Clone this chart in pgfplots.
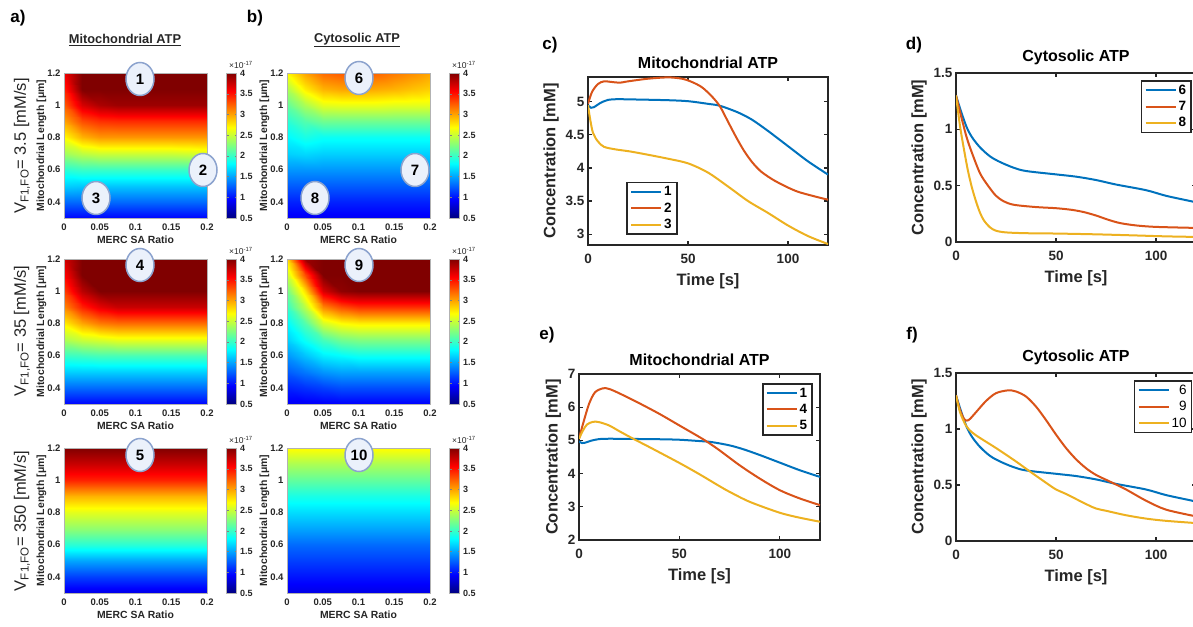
\documentclass[border=0pt]{standalone}
\usepackage{fontspec}
\setmainfont{Liberation Sans}
\usepackage{pgfplots}
\usepackage{pgfplotstable}
\pgfplotsset{compat=1.18}
\usetikzlibrary{shapes.geometric}
\definecolor{mblue}{rgb}{0,0.447,0.741}
\definecolor{morange}{rgb}{0.850,0.325,0.098}
\definecolor{myellow}{rgb}{0.929,0.694,0.125}
\definecolor{axgray}{HTML}{262626}
\definecolor{ellfill}{HTML}{EBF1FB}
\definecolor{elldraw}{HTML}{8CA3CE}

% heatmap A: mitochondrial ATP, V=3.5
\pgfplotstableread[row sep=\\]{
x y c\\
0 0.3 0.95\\ 0.025 0.3 0.95\\ 0.05 0.3 0.95\\ 0.075 0.3 0.95\\ 0.1 0.3 0.95\\ 0.125 0.3 0.95\\ 0.15 0.3 0.95\\ 0.175 0.3 0.95\\ 0.2 0.3 0.95\\
0 0.4 1.3\\ 0.025 0.4 1.3\\ 0.05 0.4 1.3\\ 0.075 0.4 1.3\\ 0.1 0.4 1.3\\ 0.125 0.4 1.3\\ 0.15 0.4 1.3\\ 0.175 0.4 1.3\\ 0.2 0.4 1.3\\
0 0.5 1.65\\ 0.025 0.5 1.63\\ 0.05 0.5 1.62\\ 0.075 0.5 1.62\\ 0.1 0.5 1.62\\ 0.125 0.5 1.62\\ 0.15 0.5 1.62\\ 0.175 0.5 1.62\\ 0.2 0.5 1.62\\
0 0.6 1.95\\ 0.025 0.6 2.0\\ 0.05 0.6 2.0\\ 0.075 0.6 2.0\\ 0.1 0.6 2.0\\ 0.125 0.6 2.0\\ 0.15 0.6 2.0\\ 0.175 0.6 2.0\\ 0.2 0.6 2.0\\
0 0.7 2.35\\ 0.025 0.7 2.45\\ 0.05 0.7 2.5\\ 0.075 0.7 2.5\\ 0.1 0.7 2.5\\ 0.125 0.7 2.5\\ 0.15 0.7 2.5\\ 0.175 0.7 2.52\\ 0.2 0.7 2.55\\
0 0.8 2.7\\ 0.025 0.8 2.95\\ 0.05 0.8 3.05\\ 0.075 0.8 3.05\\ 0.1 0.8 3.05\\ 0.125 0.8 3.05\\ 0.15 0.8 3.05\\ 0.175 0.8 3.05\\ 0.2 0.8 3.05\\
0 0.9 3.0\\ 0.025 0.9 3.3\\ 0.05 0.9 3.4\\ 0.075 0.9 3.42\\ 0.1 0.9 3.42\\ 0.125 0.9 3.42\\ 0.15 0.9 3.42\\ 0.175 0.9 3.42\\ 0.2 0.9 3.42\\
0 1.0 3.25\\ 0.025 1.0 3.7\\ 0.05 1.0 3.85\\ 0.075 1.0 3.9\\ 0.1 1.0 3.9\\ 0.125 1.0 3.9\\ 0.15 1.0 3.9\\ 0.175 1.0 3.9\\ 0.2 1.0 3.9\\
0 1.1 3.45\\ 0.025 1.1 4.05\\ 0.05 1.1 4.25\\ 0.075 1.1 4.3\\ 0.1 1.1 4.3\\ 0.125 1.1 4.3\\ 0.15 1.1 4.3\\ 0.175 1.1 4.3\\ 0.2 1.1 4.3\\
0 1.2 3.6\\ 0.025 1.2 4.3\\ 0.05 1.2 4.45\\ 0.075 1.2 4.5\\ 0.1 1.2 4.5\\ 0.125 1.2 4.5\\ 0.15 1.2 4.5\\ 0.175 1.2 4.5\\ 0.2 1.2 4.5\\
}\tabA

% heatmap B: cytosolic ATP, V=3.5
\pgfplotstableread[row sep=\\]{
x y c\\
0 0.3 0.9\\ 0.025 0.3 0.9\\ 0.05 0.3 0.9\\ 0.075 0.3 0.9\\ 0.1 0.3 0.9\\ 0.125 0.3 0.9\\ 0.15 0.3 0.9\\ 0.175 0.3 0.9\\ 0.2 0.3 0.9\\
0 0.4 1.05\\ 0.025 0.4 1.05\\ 0.05 0.4 1.05\\ 0.075 0.4 1.05\\ 0.1 0.4 1.05\\ 0.125 0.4 1.05\\ 0.15 0.4 1.05\\ 0.175 0.4 1.05\\ 0.2 0.4 1.05\\
0 0.5 1.25\\ 0.025 0.5 1.25\\ 0.05 0.5 1.25\\ 0.075 0.5 1.25\\ 0.1 0.5 1.25\\ 0.125 0.5 1.25\\ 0.15 0.5 1.25\\ 0.175 0.5 1.25\\ 0.2 0.5 1.25\\
0 0.6 1.45\\ 0.025 0.6 1.45\\ 0.05 0.6 1.45\\ 0.075 0.6 1.45\\ 0.1 0.6 1.45\\ 0.125 0.6 1.45\\ 0.15 0.6 1.45\\ 0.175 0.6 1.45\\ 0.2 0.6 1.45\\
0 0.7 1.65\\ 0.025 0.7 1.68\\ 0.05 0.7 1.65\\ 0.075 0.7 1.65\\ 0.1 0.7 1.65\\ 0.125 0.7 1.65\\ 0.15 0.7 1.65\\ 0.175 0.7 1.65\\ 0.2 0.7 1.65\\
0 0.8 1.8\\ 0.025 0.8 1.9\\ 0.05 0.8 1.85\\ 0.075 0.8 1.85\\ 0.1 0.8 1.85\\ 0.125 0.8 1.85\\ 0.15 0.8 1.85\\ 0.175 0.8 1.85\\ 0.2 0.8 1.85\\
0 0.9 1.95\\ 0.025 0.9 2.1\\ 0.05 0.9 2.2\\ 0.075 0.9 2.2\\ 0.1 0.9 2.2\\ 0.125 0.9 2.2\\ 0.15 0.9 2.2\\ 0.175 0.9 2.2\\ 0.2 0.9 2.2\\
0 1.0 2.15\\ 0.025 1.0 2.4\\ 0.05 1.0 2.6\\ 0.075 1.0 2.62\\ 0.1 1.0 2.62\\ 0.125 1.0 2.62\\ 0.15 1.0 2.6\\ 0.175 1.0 2.6\\ 0.2 1.0 2.6\\
0 1.1 2.4\\ 0.025 1.1 2.75\\ 0.05 1.1 2.95\\ 0.075 1.1 3.0\\ 0.1 1.1 3.0\\ 0.125 1.1 2.98\\ 0.15 1.1 2.95\\ 0.175 1.1 2.9\\ 0.2 1.1 2.85\\
0 1.2 2.7\\ 0.025 1.2 3.0\\ 0.05 1.2 3.2\\ 0.075 1.2 3.25\\ 0.1 1.2 3.25\\ 0.125 1.2 3.22\\ 0.15 1.2 3.15\\ 0.175 1.2 3.08\\ 0.2 1.2 3.0\\
}\tabB

% heatmap C: mitochondrial ATP, V=35
\pgfplotstableread[row sep=\\]{
x y c\\
0 0.3 0.95\\ 0.025 0.3 0.95\\ 0.05 0.3 0.95\\ 0.075 0.3 0.95\\ 0.1 0.3 0.95\\ 0.125 0.3 0.95\\ 0.15 0.3 0.95\\ 0.175 0.3 0.95\\ 0.2 0.3 0.95\\
0 0.4 1.3\\ 0.025 0.4 1.3\\ 0.05 0.4 1.3\\ 0.075 0.4 1.3\\ 0.1 0.4 1.3\\ 0.125 0.4 1.3\\ 0.15 0.4 1.3\\ 0.175 0.4 1.3\\ 0.2 0.4 1.3\\
0 0.5 1.65\\ 0.025 0.5 1.65\\ 0.05 0.5 1.65\\ 0.075 0.5 1.65\\ 0.1 0.5 1.65\\ 0.125 0.5 1.65\\ 0.15 0.5 1.65\\ 0.175 0.5 1.65\\ 0.2 0.5 1.65\\
0 0.6 2.0\\ 0.025 0.6 2.02\\ 0.05 0.6 2.05\\ 0.075 0.6 2.05\\ 0.1 0.6 2.05\\ 0.125 0.6 2.05\\ 0.15 0.6 2.05\\ 0.175 0.6 2.05\\ 0.2 0.6 2.05\\
0 0.7 2.4\\ 0.025 0.7 2.5\\ 0.05 0.7 2.55\\ 0.075 0.7 2.6\\ 0.1 0.7 2.6\\ 0.125 0.7 2.6\\ 0.15 0.7 2.6\\ 0.175 0.7 2.6\\ 0.2 0.7 2.6\\
0 0.8 2.75\\ 0.025 0.8 3.0\\ 0.05 0.8 3.15\\ 0.075 0.8 3.2\\ 0.1 0.8 3.2\\ 0.125 0.8 3.2\\ 0.15 0.8 3.2\\ 0.175 0.8 3.2\\ 0.2 0.8 3.2\\
0 0.9 3.1\\ 0.025 0.9 3.45\\ 0.05 0.9 3.65\\ 0.075 0.9 3.75\\ 0.1 0.9 3.75\\ 0.125 0.9 3.75\\ 0.15 0.9 3.75\\ 0.175 0.9 3.75\\ 0.2 0.9 3.75\\
0 1.0 3.35\\ 0.025 1.0 3.8\\ 0.05 1.0 4.05\\ 0.075 1.0 4.2\\ 0.1 1.0 4.2\\ 0.125 1.0 4.2\\ 0.15 1.0 4.2\\ 0.175 1.0 4.2\\ 0.2 1.0 4.2\\
0 1.1 3.55\\ 0.025 1.1 4.1\\ 0.05 1.1 4.35\\ 0.075 1.1 4.5\\ 0.1 1.1 4.5\\ 0.125 1.1 4.5\\ 0.15 1.1 4.5\\ 0.175 1.1 4.5\\ 0.2 1.1 4.5\\
0 1.2 3.7\\ 0.025 1.2 4.3\\ 0.05 1.2 4.55\\ 0.075 1.2 4.7\\ 0.1 1.2 4.7\\ 0.125 1.2 4.7\\ 0.15 1.2 4.7\\ 0.175 1.2 4.7\\ 0.2 1.2 4.7\\
}\tabC

% heatmap D: cytosolic ATP, V=35
\pgfplotstableread[row sep=\\]{
x y c\\
0 0.3 0.9\\ 0.025 0.3 0.9\\ 0.05 0.3 0.92\\ 0.075 0.3 0.93\\ 0.1 0.3 0.93\\ 0.125 0.3 0.93\\ 0.15 0.3 0.93\\ 0.175 0.3 0.93\\ 0.2 0.3 0.93\\
0 0.4 1.05\\ 0.025 0.4 1.1\\ 0.05 0.4 1.15\\ 0.075 0.4 1.2\\ 0.1 0.4 1.2\\ 0.125 0.4 1.2\\ 0.15 0.4 1.2\\ 0.175 0.4 1.2\\ 0.2 0.4 1.2\\
0 0.5 1.25\\ 0.025 0.5 1.35\\ 0.05 0.5 1.45\\ 0.075 0.5 1.5\\ 0.1 0.5 1.5\\ 0.125 0.5 1.5\\ 0.15 0.5 1.5\\ 0.175 0.5 1.5\\ 0.2 0.5 1.5\\
0 0.6 1.45\\ 0.025 0.6 1.6\\ 0.05 0.6 1.75\\ 0.075 0.6 1.8\\ 0.1 0.6 1.85\\ 0.125 0.6 1.85\\ 0.15 0.6 1.85\\ 0.175 0.6 1.85\\ 0.2 0.6 1.85\\
0 0.7 1.65\\ 0.025 0.7 1.85\\ 0.05 0.7 2.05\\ 0.075 0.7 2.2\\ 0.1 0.7 2.25\\ 0.125 0.7 2.25\\ 0.15 0.7 2.25\\ 0.175 0.7 2.25\\ 0.2 0.7 2.25\\
0 0.8 1.8\\ 0.025 0.8 2.1\\ 0.05 0.8 2.55\\ 0.075 0.8 2.7\\ 0.1 0.8 2.75\\ 0.125 0.8 2.75\\ 0.15 0.8 2.75\\ 0.175 0.8 2.75\\ 0.2 0.8 2.75\\
0 0.9 2.0\\ 0.025 0.9 2.45\\ 0.05 0.9 3.1\\ 0.075 0.9 3.3\\ 0.1 0.9 3.4\\ 0.125 0.9 3.4\\ 0.15 0.9 3.4\\ 0.175 0.9 3.4\\ 0.2 0.9 3.4\\
0 1.0 2.2\\ 0.025 1.0 2.8\\ 0.05 1.0 3.7\\ 0.075 1.0 3.95\\ 0.1 1.0 4.05\\ 0.125 1.0 4.05\\ 0.15 1.0 4.05\\ 0.175 1.0 4.05\\ 0.2 1.0 4.05\\
0 1.1 2.5\\ 0.025 1.1 3.3\\ 0.05 1.1 4.1\\ 0.075 1.1 4.3\\ 0.1 1.1 4.4\\ 0.125 1.1 4.4\\ 0.15 1.1 4.4\\ 0.175 1.1 4.4\\ 0.2 1.1 4.4\\
0 1.2 2.8\\ 0.025 1.2 3.9\\ 0.05 1.2 4.4\\ 0.075 1.2 4.5\\ 0.1 1.2 4.6\\ 0.125 1.2 4.6\\ 0.15 1.2 4.6\\ 0.175 1.2 4.6\\ 0.2 1.2 4.6\\
}\tabD

% heatmap E: mitochondrial ATP, V=350
\pgfplotstableread[row sep=\\]{
x y c\\
0 0.3 0.85\\ 0.2 0.3 0.85\\
0 0.4 1.15\\ 0.2 0.4 1.15\\
0 0.5 1.5\\ 0.2 0.5 1.5\\
0 0.6 1.95\\ 0.2 0.6 1.95\\
0 0.7 2.3\\ 0.2 0.7 2.3\\
0 0.8 2.6\\ 0.2 0.8 2.6\\
0 0.9 2.95\\ 0.2 0.9 2.95\\
0 1.0 3.45\\ 0.2 1.0 3.45\\
0 1.1 3.75\\ 0.2 1.1 3.75\\
0 1.2 4.0\\ 0.2 1.2 4.0\\
}\tabE

% heatmap F: cytosolic ATP, V=350
\pgfplotstableread[row sep=\\]{
x y c\\
0 0.3 0.85\\ 0.2 0.3 0.85\\
0 0.4 1.0\\ 0.2 0.4 1.0\\
0 0.5 1.15\\ 0.2 0.5 1.15\\
0 0.6 1.3\\ 0.2 0.6 1.3\\
0 0.7 1.5\\ 0.2 0.7 1.5\\
0 0.8 1.7\\ 0.2 0.8 1.7\\
0 0.9 1.9\\ 0.2 0.9 1.9\\
0 1.0 2.15\\ 0.2 1.0 2.15\\
0 1.1 2.4\\ 0.2 1.1 2.4\\
0 1.2 2.7\\ 0.2 1.2 2.7\\
}\tabF

\pgfplotsset{
  heat/.style={
    scale only axis, width=143pt, height=145pt,
    xmin=0, xmax=0.2, ymin=0.3, ymax=1.2,
    xtick={0,0.05,0.1,0.15,0.2}, xticklabels={0,0.05,0.1,0.15,0.2},
    ytick={0.4,0.6,0.8,1,1.2}, yticklabels={0.4,0.6,0.8,1,1.2},
    tick label style={font=\fontsize{9.5}{10}\selectfont\bfseries, text=axgray},
    xticklabel style={yshift=-2pt},
    label style={font=\fontsize{10.4}{12}\selectfont\bfseries, text=axgray},
    ylabel={Mitochondrial Length [μm]}, ylabel shift=-6pt,
    xlabel={MERC SA Ratio}, xlabel shift=-1pt,
    colormap/jet, point meta min=0.5, point meta max=4,
    axis on top, axis line style={draw=gray!60, line width=0.5pt},
    major tick length=0pt,
    colorbar,
    colorbar style={
      at={(parent axis.north east)}, anchor=north west, xshift=11pt,
      width=10pt, xlabel={}, ylabel={},
      ytick={0.5,1,1.5,2,2.5,3,3.5,4}, yticklabels={0.5,1,1.5,2,2.5,3,3.5,4},
      yticklabel style={font=\fontsize{9}{10}\selectfont\bfseries, text=axgray},
      major tick length=2pt,
      axis line style={draw=gray!60, line width=0.5pt},
    },
  },
  lineax/.style={
    scale only axis,
    xmin=0, xmax=120, xtick={0,50,100}, xticklabels={0,50,100},
    axis line style={draw=axgray, line width=1.6pt},
    tick style={draw=axgray, line width=1.1pt}, major tick length=4pt, tick align=inside,
    tick label style={font=\fontsize{13.5}{15}\selectfont\bfseries, text=axgray},
    xticklabel style={yshift=-6pt},
    label style={font=\fontsize{16.5}{18}\selectfont\bfseries, text=axgray},
    xlabel shift=3pt,
    title style={font=\fontsize{16}{18}\selectfont\bfseries, text=black, yshift=-1pt},
    xlabel={Time [s]}, ylabel={Concentration [mM]},
    legend style={draw=axgray, line width=1.6pt, fill=white,
      font=\fontsize{13.5}{15}\selectfont\bfseries, inner xsep=3pt, inner ysep=2pt,
      row sep=1.5pt},
    legend cell align=right,
    legend image code/.code={\draw[#1, line width=2pt] (0pt,0pt) -- (30pt,0pt);},
    every axis plot/.append style={line width=2pt, smooth, no markers},
  },
}

\tikzset{circ/.style={ellipse, draw=elldraw, fill=ellfill, line width=1.5pt,
  minimum width=28pt, minimum height=33pt, inner sep=0pt,
  font=\fontsize{15}{15}\selectfont\bfseries}}

\begin{document}
\begin{tikzpicture}
\useasboundingbox (0pt,0pt) rectangle (1193pt,626pt);
\clip (0pt,0pt) rectangle (1193pt,626pt);

% ---------------- heatmaps ----------------
\begin{axis}[heat, at={(64pt,408pt)}, anchor=south west]
\addplot[surf, shader=interp, mesh/cols=9, point meta=explicit] table[x=x,y=y,meta=c]{\tabA};
\end{axis}
\begin{axis}[heat, at={(287pt,408pt)}, anchor=south west]
\addplot[surf, shader=interp, mesh/cols=9, point meta=explicit] table[x=x,y=y,meta=c]{\tabB};
\end{axis}
\begin{axis}[heat, at={(64pt,222pt)}, anchor=south west]
\addplot[surf, shader=interp, mesh/cols=9, point meta=explicit] table[x=x,y=y,meta=c]{\tabC};
\end{axis}
\begin{axis}[heat, at={(287pt,222pt)}, anchor=south west]
\addplot[surf, shader=interp, mesh/cols=9, point meta=explicit] table[x=x,y=y,meta=c]{\tabD};
\end{axis}
\begin{axis}[heat, at={(64pt,33pt)}, anchor=south west]
\addplot[surf, shader=interp, mesh/cols=2, point meta=explicit] table[x=x,y=y,meta=c]{\tabE};
\end{axis}
\begin{axis}[heat, at={(287pt,33pt)}, anchor=south west]
\addplot[surf, shader=interp, mesh/cols=2, point meta=explicit] table[x=x,y=y,meta=c]{\tabF};
\end{axis}

% colorbar exponents
\foreach \yy in {557,371,182} {
  \node[anchor=south west, inner sep=0pt, font=\fontsize{8.5}{8.5}\selectfont, text=axgray] at (229pt,\yy pt) {×10\textsuperscript{-17}};
  \node[anchor=south west, inner sep=0pt, font=\fontsize{8.5}{8.5}\selectfont, text=axgray] at (452pt,\yy pt) {×10\textsuperscript{-17}};
}

% row labels
\node[rotate=90, font=\fontsize{16.5}{16.5}\selectfont, text=axgray] at (22pt,480pt) {V\textsubscript{F1,FO}= 3.5 [mM/s]};
\node[rotate=90, font=\fontsize{16.5}{16.5}\selectfont, text=axgray] at (22pt,295pt) {V\textsubscript{F1,FO}= 35 [mM/s]};
\node[rotate=90, font=\fontsize{16.5}{16.5}\selectfont, text=axgray] at (22pt,105pt) {V\textsubscript{F1,FO}= 350 [mM/s]};

% column titles and panel labels
\node[font=\fontsize{12.8}{14}\selectfont\bfseries, text=axgray] at (125pt,586pt) {\underline{Mitochondrial ATP}};
\node[font=\fontsize{12.8}{14}\selectfont\bfseries, text=axgray] at (357pt,586pt) {\underline{Cytosolic ATP}};
\node[font=\fontsize{17}{17}\selectfont\bfseries] at (18pt,608pt) {a)};
\node[font=\fontsize{17}{17}\selectfont\bfseries] at (255pt,608pt) {b)};
\node[font=\fontsize{17}{17}\selectfont\bfseries] at (550pt,581pt) {c)};
\node[font=\fontsize{17}{17}\selectfont\bfseries] at (914pt,581pt) {d)};
\node[font=\fontsize{17}{17}\selectfont\bfseries] at (547pt,291pt) {e)};
\node[font=\fontsize{17}{17}\selectfont\bfseries] at (912pt,291pt) {f)};

% numbered markers
\node[circ] at (140pt,547pt) {1};
\node[circ] at (203pt,456pt) {2};
\node[circ] at (96pt,428pt) {3};
\node[circ] at (359pt,548pt) {6};
\node[circ] at (415pt,456pt) {7};
\node[circ] at (315pt,428pt) {8};
\node[circ] at (140pt,361pt) {4};
\node[circ] at (359pt,361pt) {9};
\node[circ] at (140pt,171pt) {5};
\node[circ] at (359pt,171pt) {10};

% ---------------- line plots ----------------
\begin{axis}[lineax, at={(588pt,381pt)}, anchor=south west, width=240pt, height=168pt,
  ymin=2.835, ymax=5.376, ytick={3,3.5,4,4.5,5}, yticklabels={3,3.5,4,4.5,5},
  title={Mitochondrial ATP},
  legend style={at={(0.16,0.06)}, anchor=south west}]
\addplot[mblue] coordinates {(0,4.95)(1.5,4.91)(3,4.92)(6,4.98)(10,5.03)(15,5.04)(25,5.035)(40,5.025)(50,5.01)(60,4.97)(66,4.94)(75,4.84)(82,4.73)(90,4.56)(100,4.33)(110,4.1)(120,3.9)};
\addlegendentry{1}
\addplot[morange] coordinates {(0,4.97)(2,5.15)(5,5.27)(8,5.31)(12,5.3)(16,5.29)(20,5.31)(30,5.35)(40,5.37)(47,5.35)(52,5.3)(57,5.22)(62,5.08)(66,4.93)(70,4.7)(74,4.47)(78,4.26)(82,4.09)(86,3.96)(90,3.87)(95,3.78)(105,3.64)(120,3.52)};
\addlegendentry{2}
\addplot[myellow] coordinates {(0,4.95)(1,4.75)(2.5,4.53)(5,4.4)(8,4.32)(14,4.28)(21,4.25)(30,4.2)(40,4.14)(50,4.07)(60,3.93)(70,3.72)(80,3.5)(90,3.32)(100,3.13)(110,2.97)(120,2.85)};
\addlegendentry{3}
\end{axis}

\begin{axis}[lineax, at={(956pt,384pt)}, anchor=south west, width=240pt, height=169pt,
  ymin=0, ymax=1.5, ytick={0,0.5,1,1.5}, yticklabels={0,0.5,1,1.5},
  title={Cytosolic ATP},
  legend style={at={(0.983,0.959)}, anchor=north east}]
\addplot[mblue] coordinates {(0,1.3)(2.5,1.16)(5.3,1.02)(8,0.93)(12,0.84)(17,0.76)(22,0.71)(28.7,0.66)(35,0.63)(50,0.6)(60,0.58)(70,0.55)(80,0.51)(95,0.46)(105,0.41)(118,0.36)(120,0.35)};
\addlegendentry{6}
\addplot[morange] coordinates {(0,1.3)(2.5,1.12)(5.3,0.93)(8,0.79)(12,0.61)(16,0.5)(20,0.41)(24,0.36)(29,0.33)(40,0.31)(50,0.3)(58,0.285)(64,0.265)(70,0.235)(76,0.198)(82,0.168)(90,0.147)(100,0.134)(120,0.125)};
\addlegendentry{7}
\addplot[myellow] coordinates {(0,1.3)(2,1.03)(4,0.82)(6,0.63)(8,0.48)(10,0.36)(12,0.26)(14,0.19)(17,0.13)(20,0.1)(25,0.085)(35,0.078)(50,0.075)(70,0.068)(90,0.058)(105,0.05)(120,0.045)};
\addlegendentry{8}
\end{axis}

\begin{axis}[lineax, at={(579pt,86pt)}, anchor=south west, width=241pt, height=166pt,
  ymin=2, ymax=7, ytick={2,3,4,5,6,7}, yticklabels={2,3,4,5,6,7},
  title={Mitochondrial ATP},
  legend style={at={(0.971,0.946)}, anchor=north east}]
\addplot[mblue] coordinates {(0,4.97)(1.5,4.92)(3,4.93)(6,4.99)(10,5.04)(15,5.05)(25,5.045)(40,5.035)(50,5.02)(60,4.98)(66,4.95)(75,4.85)(82,4.73)(90,4.56)(100,4.33)(110,4.1)(120,3.9)};
\addlegendentry{1}
\addplot[morange] coordinates {(0,5.05)(2,5.5)(5,6.1)(8,6.45)(12,6.57)(15,6.55)(20,6.42)(30,6.12)(40,5.8)(50,5.45)(60,5.1)(64,4.95)(70,4.7)(80,4.25)(90,3.85)(100,3.5)(110,3.25)(120,3.05)};
\addlegendentry{4}
\addplot[myellow] coordinates {(0,5.05)(2,5.3)(4,5.48)(7,5.56)(10,5.55)(15,5.45)(20,5.28)(27,5.05)(35,4.8)(50,4.32)(60,3.98)(70,3.62)(75,3.45)(85,3.15)(100,2.82)(110,2.67)(120,2.55)};
\addlegendentry{5}
\end{axis}

\begin{axis}[lineax, at={(956pt,85pt)}, anchor=south west, width=240pt, height=168pt,
  ymin=0, ymax=1.5, ytick={0,0.5,1,1.5}, yticklabels={0,0.5,1,1.5},
  title={Cytosolic ATP},
  legend style={at={(0.985,0.958)}, anchor=north east, font=\fontsize{13.5}{15}\selectfont}]
\addplot[mblue] coordinates {(0,1.3)(2.5,1.16)(5.3,1.02)(8,0.93)(12,0.84)(17,0.76)(22,0.71)(28.7,0.66)(35,0.63)(50,0.6)(60,0.58)(70,0.55)(80,0.51)(95,0.46)(105,0.41)(118,0.36)(120,0.35)};
\addlegendentry{6}
\addplot[morange] coordinates {(0,1.3)(2,1.17)(4,1.09)(5.5,1.075)(7,1.09)(10,1.15)(15,1.25)(20,1.32)(26,1.345)(30,1.335)(35,1.29)(40,1.2)(45,1.08)(50,0.95)(55,0.83)(60,0.73)(65,0.65)(70,0.59)(77,0.53)(85,0.46)(95,0.36)(105,0.28)(120,0.22)};
\addlegendentry{9}
\addplot[myellow] coordinates {(0,1.3)(2,1.15)(5,1.03)(8,0.97)(12,0.92)(20,0.83)(30,0.71)(37,0.62)(45,0.52)(50,0.46)(55,0.42)(65,0.33)(70,0.29)(75,0.27)(85,0.23)(95,0.2)(105,0.18)(120,0.16)};
\addlegendentry{10}
\end{axis}
\end{tikzpicture}
\end{document}
